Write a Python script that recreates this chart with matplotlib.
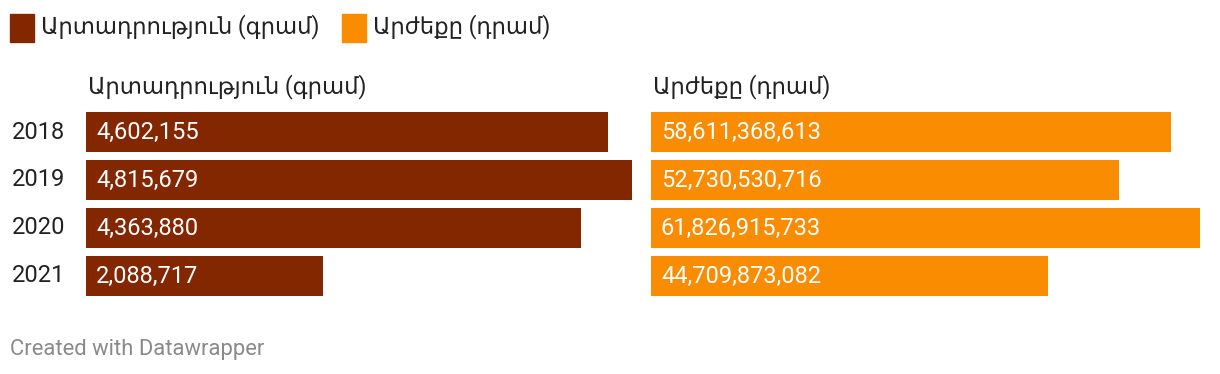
import matplotlib
matplotlib.use("Agg")
import matplotlib.pyplot as plt
from matplotlib.patches import Rectangle

plt.rcParams['font.family'] = ['Roboto', 'DejaVu Sans']

years = ["2018", "2019", "2020", "2021"]
production = [4602155, 4815679, 4363880, 2088717]
value = [58611368613, 52730530716, 61826915733, 44709873082]
series_names = ["Արտադրություն (գրամ)", "Արժեքը (դրամ)"]
colors = ["#832700", "#f98c00"]

W, H = 1220, 374
fig = plt.figure(figsize=(W / 100, H / 100), dpi=100)

def fx(px):
    return px / W

def fy(py):
    return 1 - py / H

top, bottom = 112, 296
panels = [(86, 632, production, 0), (651, 1200, value, 1)]
fs = 17
fs_arm = 16.4

for left, right, vals, k in panels:
    ax = fig.add_axes([fx(left), fy(bottom), fx(right - left), (bottom - top) / H])
    y = list(range(len(years)))
    ax.barh(y, vals, height=40 / 48, color=colors[k])
    ax.set_xlim(0, max(vals))
    ax.set_ylim(3 + 20 / 48, -20 / 48)
    ax.axis("off")
    # value labels inside the bars
    for i, v in enumerate(vals):
        ax.text(max(vals) * 10 / (right - left), i + 0.02, f"{v:,}", color="white",
                fontsize=fs, va="center", ha="left")
    fig.text(fx(left + 2), fy(87), series_names[k], fontsize=fs_arm, va="center", ha="left",
             color="#222222")

# year labels
for i, yr in enumerate(years):
    fig.text(fx(12), fy(132 + 48 * i), yr, fontsize=fs, va="center", ha="left", color="#222222")

# legend
leg_x = [10, 342]
for k in range(2):
    fig.patches.append(Rectangle((fx(leg_x[k]), fy(42)), fx(24), 28 / H,
                                 transform=fig.transFigure, color=colors[k]))
    fig.text(fx(leg_x[k] + 31), fy(27), series_names[k], fontsize=fs_arm, va="center",
             ha="left", color="#222222")

fig.text(fx(10), fy(349), "Created with Datawrapper", fontsize=15.8, va="center",
         ha="left", color="#8a8a8a")

fig.savefig("out.png", dpi=100)
